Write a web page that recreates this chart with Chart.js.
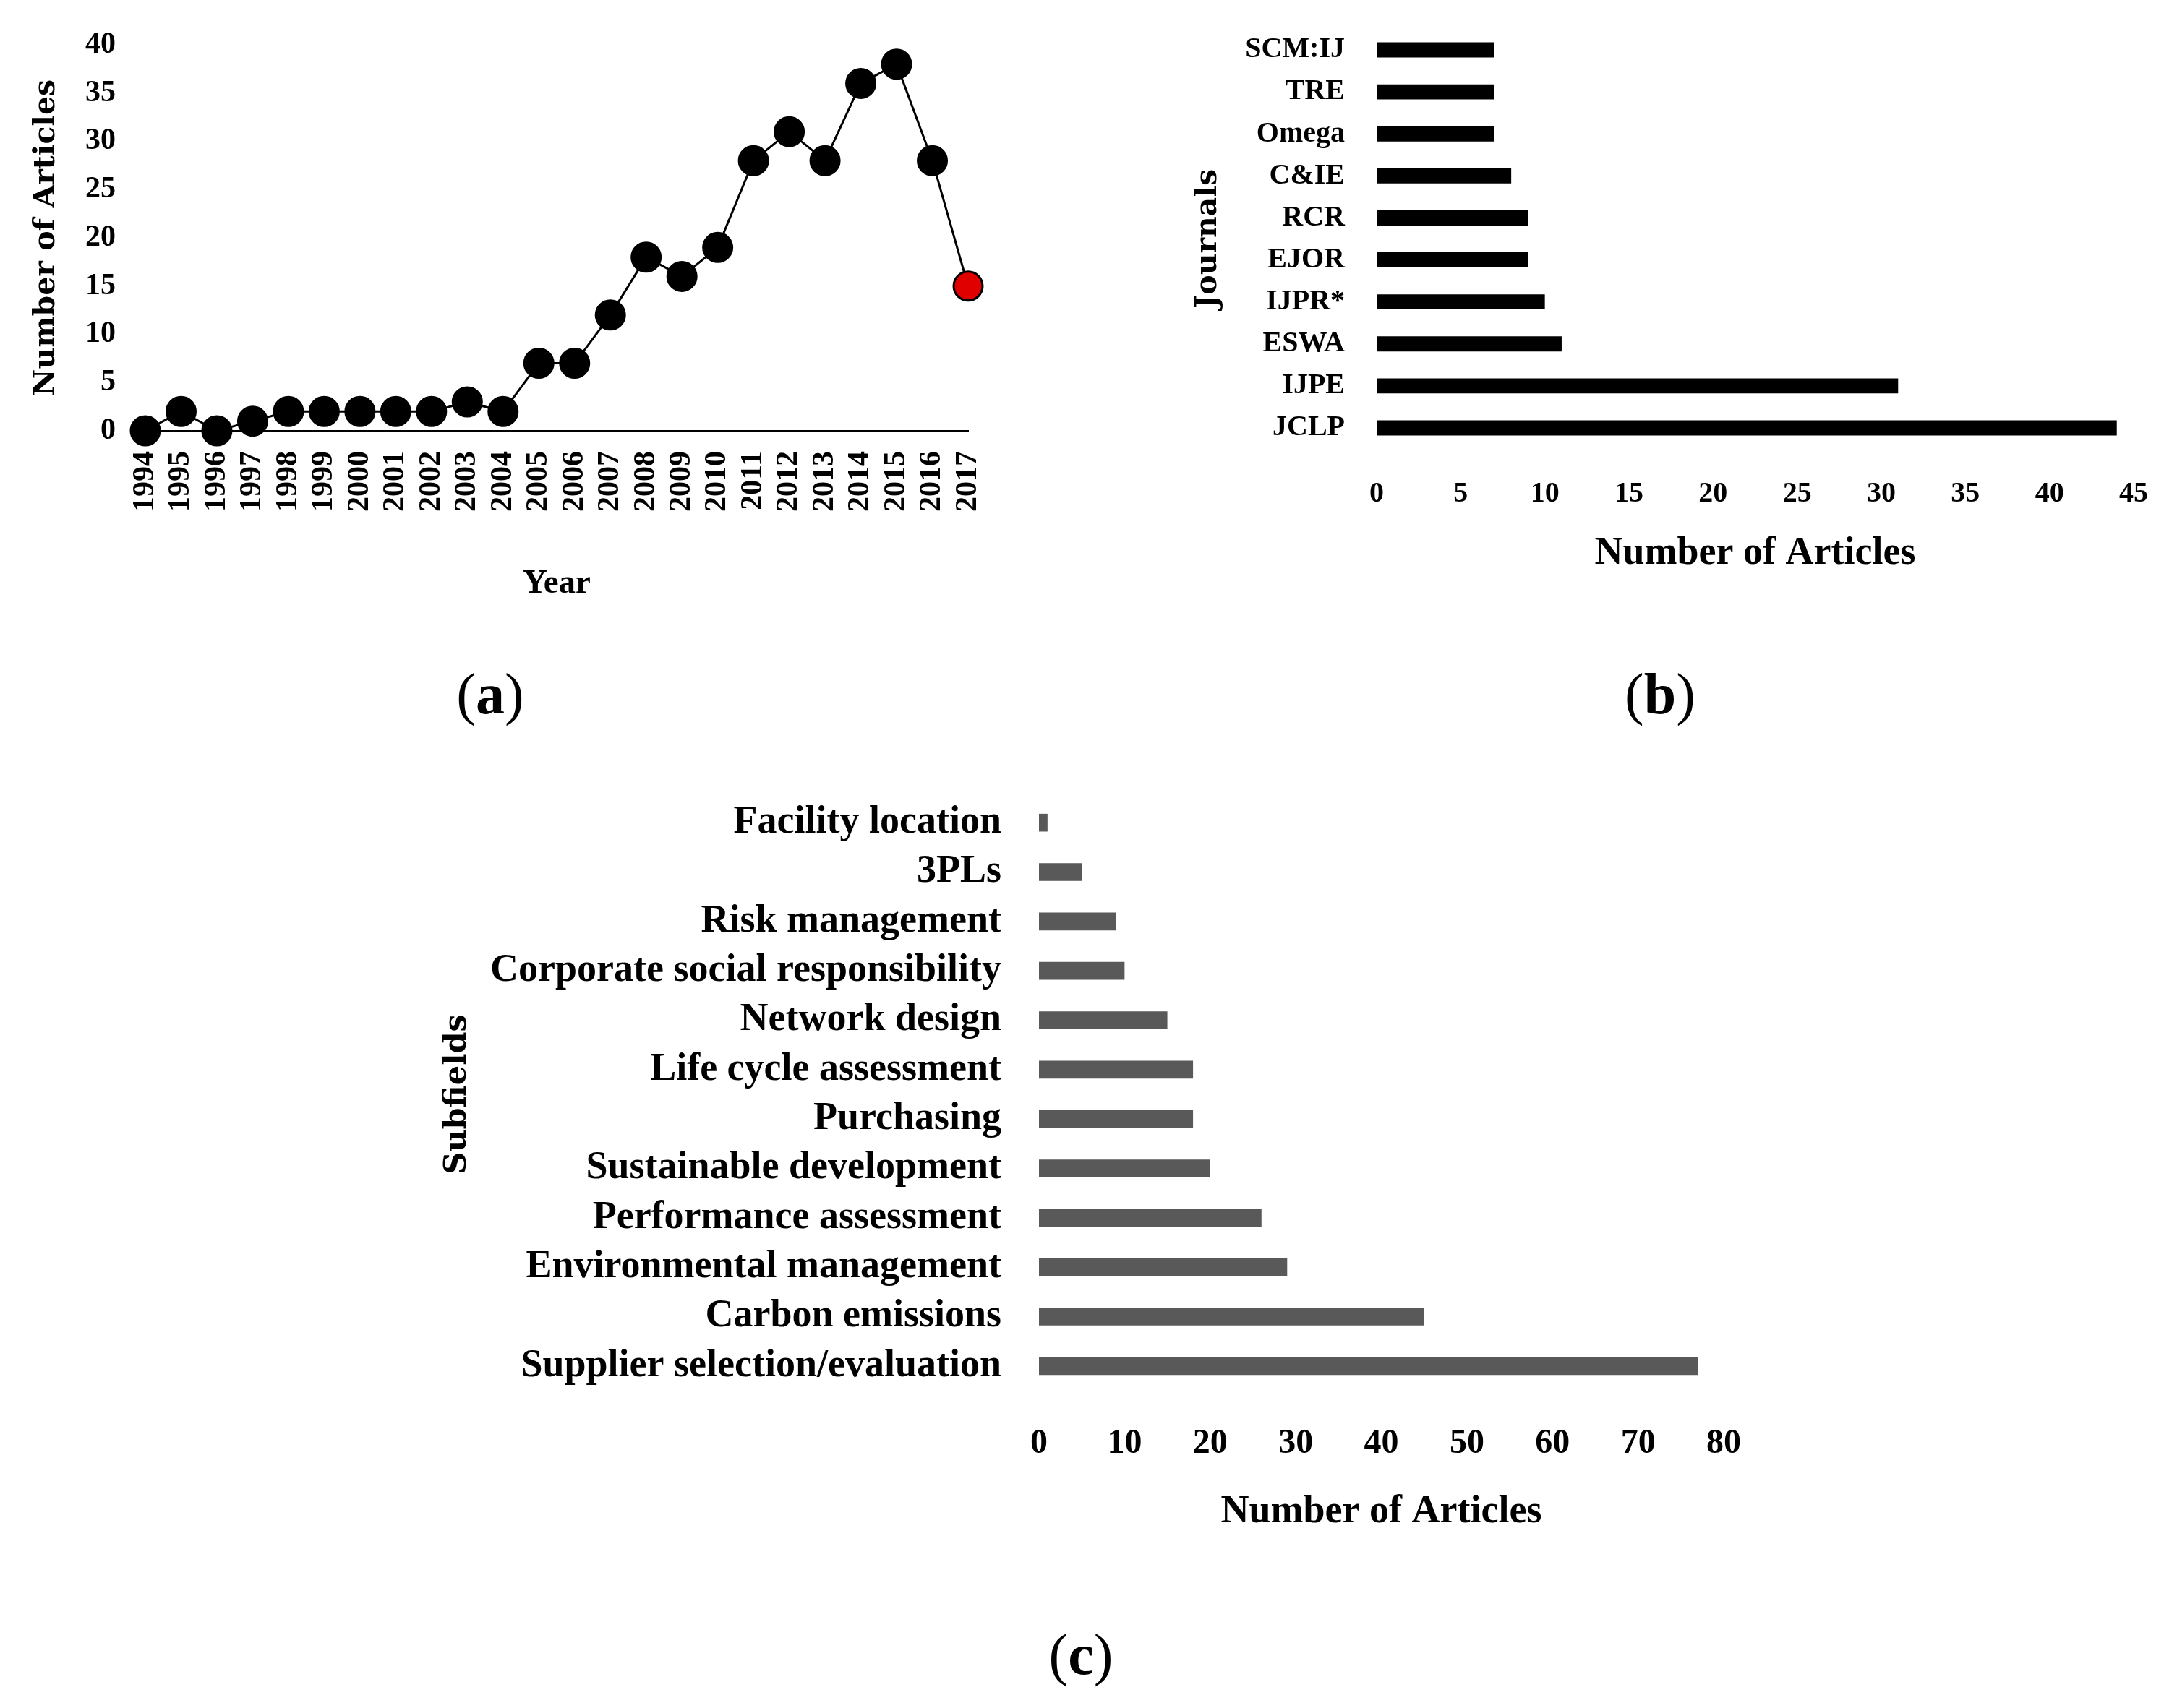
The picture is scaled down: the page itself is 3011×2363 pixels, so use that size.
<!DOCTYPE html>
<html>
<head>
<meta charset="utf-8">
<title>Articles overview</title>
<script src="https://cdn.jsdelivr.net/npm/chart.js@4.4.0/dist/chart.umd.min.js"></script>
<style>
  html, body { margin: 0; padding: 0; background: #fff; }
  #page { position: relative; width: 3011px; height: 2363px; overflow: hidden; background: #fff; }
  #page canvas { position: absolute; left: 0; top: 0; }
  .tag {
    position: absolute;
    font-family: "Liberation Serif", serif;
    font-size: 80px;
    line-height: 1;
    color: #000;
    transform: translate(-50%, -50%);
    white-space: nowrap;
  }
  .tag b { font-weight: bold; }
</style>
</head>
<body>
<div id="page">
  <canvas id="chartA" width="3011" height="2363"></canvas>
  <canvas id="chartB" width="3011" height="2363"></canvas>
  <canvas id="chartC" width="3011" height="2363"></canvas>
  <div class="tag" style="left:678px; top:960px;">(<b>a</b>)</div>
  <div class="tag" style="left:2296px; top:960px;">(<b>b</b>)</div>
  <div class="tag" style="left:1495px; top:2289px;">(<b>c</b>)</div>
</div>

<script>
// (a) articles per year
const years = ['1994', '1995', '1996', '1997', '1998', '1999', '2000', '2001', '2002', '2003', '2004', '2005',
  '2006', '2007', '2008', '2009', '2010', '2011', '2012', '2013', '2014', '2015', '2016', '2017'];
const articlesPerYear = [0, 2, 0, 1, 2, 2, 2, 2, 2, 3, 2, 7, 7, 12, 18, 16, 19, 28, 31, 28, 36, 38, 28, 15];
const yearTicks = [0, 5, 10, 15, 20, 25, 30, 35, 40];

// (b) top journals
const journals = ['SCM:IJ', 'TRE', 'Omega', 'C&IE', 'RCR', 'EJOR', 'IJPR*', 'ESWA', 'IJPE', 'JCLP'];
const journalArticles = [7, 7, 7, 8, 9, 9, 10, 11, 31, 44];
const journalTicks = [0, 5, 10, 15, 20, 25, 30, 35, 40, 45];

// (c) subfields
const subfields = ['Facility location', '3PLs', 'Risk management', 'Corporate social responsibility',
  'Network design', 'Life cycle assessment', 'Purchasing', 'Sustainable development',
  'Performance assessment', 'Environmental management', 'Carbon emissions', 'Supplier selection/evaluation'];
const subfieldArticles = [1, 5, 9, 10, 15, 18, 18, 20, 26, 29, 45, 77];
const subfieldTicks = [0, 10, 20, 30, 40, 50, 60, 70, 80];

const W = 3011, H = 2363;
const SERIF = "'Liberation Serif', 'Times New Roman', serif";
const WIDE = "'DejaVu Serif', serif";

Chart.defaults.font.family = SERIF;
Chart.defaults.font.weight = 'bold';
Chart.defaults.color = '#000';

const noPlugins = { legend: { display: false }, tooltip: { enabled: false } };

// fixed box size for a scale, and no extra label overflow padding
function fixBox(size) {
  return function (s) {
    if (s.isHorizontal()) s.height = size; else s.width = size;
    s.paddingTop = 0; s.paddingBottom = 0; s.paddingLeft = 0; s.paddingRight = 0;
  };
}

// last year is highlighted in red
const lastIdx = years.length - 1;
const pointFill = years.map((y, i) => (i === lastIdx ? '#e00000' : '#000'));

new Chart(document.getElementById('chartA'), {
  type: 'line',
  data: {
    labels: years,
    datasets: [{
      data: articlesPerYear,
      borderColor: '#000',
      borderWidth: 3,
      tension: 0,
      pointRadius: 20,
      pointBorderWidth: 3,
      pointBorderColor: '#000',
      pointBackgroundColor: pointFill,
      clip: false
    }]
  },
  options: {
    responsive: false,
    animation: false,
    devicePixelRatio: 1,
    layout: { padding: { left: 40, top: 62, right: W - 1339, bottom: H - 596 - 240 } },
    plugins: noPlugins,
    scales: {
      x: {
        offset: false,
        grid: { display: false, drawTicks: false },
        border: { display: true, color: '#000', width: 3 },
        ticks: { autoSkip: false, minRotation: 90, maxRotation: 90, padding: 28, font: { size: 42 } },
        title: { display: true, text: 'Year', padding: 0, font: { size: 47 } },
        afterFit: fixBox(240)
      },
      y: {
        min: yearTicks[0],
        max: yearTicks[yearTicks.length - 1],
        afterBuildTicks(s) { s.ticks = yearTicks.map(v => ({ value: v })); },
        grid: { display: false, drawTicks: false },
        border: { display: false },
        ticks: { padding: 41, font: { size: 42 } },
        title: { display: true, text: 'Number of Articles', padding: 0, font: { family: WIDE, size: 41, weight: 'bold' } },
        afterFit: fixBox(161)
      }
    }
  }
});

new Chart(document.getElementById('chartB'), {
  type: 'bar',
  data: {
    labels: journals,
    datasets: [{ data: journalArticles, backgroundColor: '#000', barPercentage: 0.36, categoryPercentage: 1 }]
  },
  options: {
    indexAxis: 'y',
    responsive: false,
    animation: false,
    devicePixelRatio: 1,
    layout: { padding: { left: 1647, top: 40, right: W - 2951, bottom: H - 621 - 177 } },
    plugins: noPlugins,
    scales: {
      x: {
        min: journalTicks[0],
        max: journalTicks[journalTicks.length - 1],
        afterBuildTicks(s) { s.ticks = journalTicks.map(v => ({ value: v })); },
        grid: { display: false, drawTicks: false },
        border: { display: false },
        ticks: { padding: 39, font: { size: 40 } },
        title: { display: true, text: 'Number of Articles', padding: 0, font: { size: 54 } },
        afterFit: fixBox(177)
      },
      y: {
        grid: { display: false, drawTicks: false },
        border: { display: false },
        ticks: { autoSkip: false, padding: 44, font: { size: 40 } },
        title: { display: true, text: 'Journals', padding: 0, font: { family: WIDE, size: 41, weight: 'bold' } },
        afterFit: fixBox(257)
      }
    }
  }
});

new Chart(document.getElementById('chartC'), {
  type: 'bar',
  data: {
    labels: subfields,
    datasets: [{ data: subfieldArticles, backgroundColor: '#595959', barPercentage: 0.36, categoryPercentage: 1 }]
  },
  options: {
    indexAxis: 'y',
    responsive: false,
    animation: false,
    devicePixelRatio: 1,
    layout: { padding: { left: 607, top: 1104, right: W - 2384, bottom: H - 1924 - 200 } },
    plugins: noPlugins,
    scales: {
      x: {
        min: subfieldTicks[0],
        max: subfieldTicks[subfieldTicks.length - 1],
        afterBuildTicks(s) { s.ticks = subfieldTicks.map(v => ({ value: v })); },
        grid: { display: false, drawTicks: false },
        border: { display: false },
        ticks: { padding: 45, font: { size: 48 } },
        title: { display: true, text: 'Number of Articles', padding: 0, font: { size: 54 } },
        afterFit: fixBox(200)
      },
      y: {
        grid: { display: false, drawTicks: false },
        border: { display: false },
        ticks: { autoSkip: false, padding: 52, font: { size: 54 } },
        title: { display: true, text: 'Subfields', padding: 0, font: { family: WIDE, size: 43, weight: 'bold' } },
        afterFit: fixBox(830)
      }
    }
  }
});
</script>
</body>
</html>
